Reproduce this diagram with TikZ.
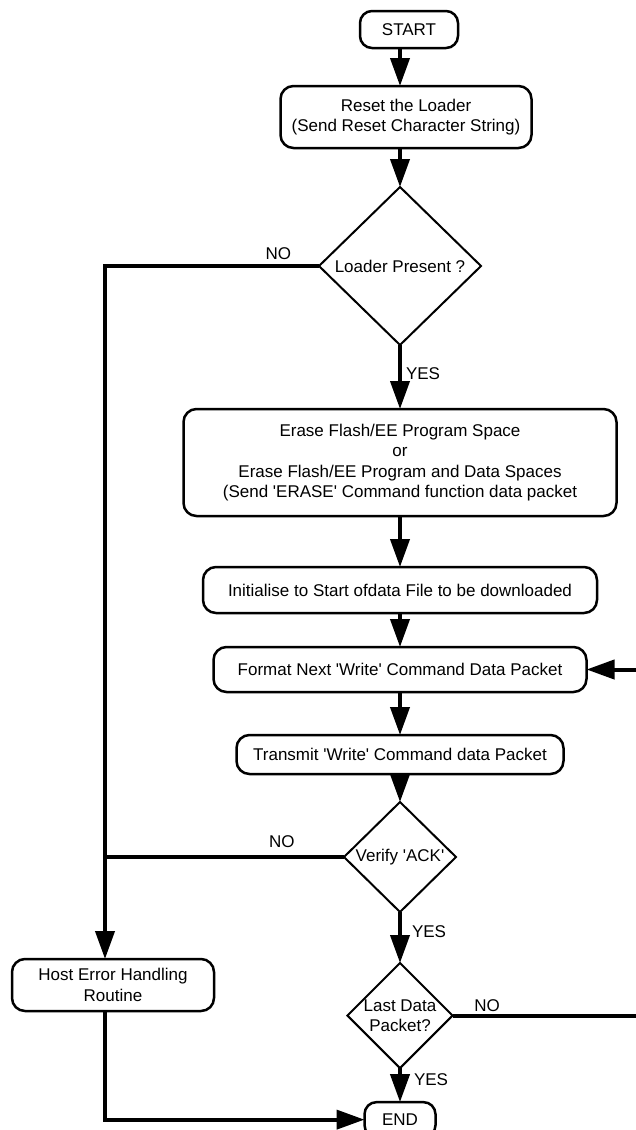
\documentclass[tikz,border=0pt]{standalone}
\usepackage{fontspec}
\setmainfont{Liberation Sans}
\usetikzlibrary{positioning, arrows.meta, shapes.geometric}
\newcommand{\apos}{\textquotesingle}

\begin{document}
\begin{tikzpicture}[
  x=1pt, y=-1pt,
  font=\fontsize{17}{20.5}\selectfont,
  proc/.style={draw, line width=2.5pt, rounded corners=13pt, align=center, inner sep=2pt, outer sep=0pt},
  term/.style={proc, rounded corners=12pt},
  decision/.style={draw, diamond, line width=2pt, aspect=1, align=center, inner sep=0pt, outer sep=0pt},
  flow/.style={line width=4pt, -{Triangle[width=19pt, length=28pt]}},
  lbl/.style={inner sep=1pt}
]
  \useasboundingbox (0,0) rectangle (636,1130);

  % Nodes
  \node[term, minimum width=98pt, minimum height=37pt] (start) at (409,29.5) {START};
  \node[proc, minimum width=251pt, minimum height=62pt] (reset) [below=38pt of start, xshift=-3pt] {Reset the Loader\\(Send Reset Character String)};
  \node[decision, minimum width=162pt, minimum height=158pt] (loader) [below=39pt of reset, xshift=-6pt] {Loader Present ?};
  \node[proc, minimum width=433pt, minimum height=107pt] (erase) [below=64pt of loader] {Erase Flash/EE Program Space\\or\\Erase Flash/EE Program and Data Spaces\\(Send \apos ERASE\apos{} Command function data packet};
  \node[proc, minimum width=394pt, minimum height=46pt] (init) [below=51pt of erase] {Initialise to Start ofdata File to be downloaded};
  \node[proc, minimum width=373pt, minimum height=45pt] (format) [below=34pt of init] {Format Next \apos Write\apos{} Command Data Packet};
  \node[proc, minimum width=327pt, minimum height=39pt] (transmit) [below=43pt of format] {Transmit \apos Write\apos{} Command data Packet};
  \node[decision, minimum width=112pt, minimum height=110pt] (verify) [below=28pt of transmit] {Verify \apos ACK\apos};
  \node[decision, minimum width=104pt, minimum height=103pt] (last) [below=51pt of verify] {Last Data\\Packet?};
  \node[term, minimum width=71pt, minimum height=35pt] (end) [below=34pt of last] {END};
  \node[proc, minimum width=202pt, minimum height=52pt] (host) at (113,985) {Host Error Handling\\Routine};

  \coordinate (nobr) at ([xshift=-214pt]loader.west);
  \coordinate (loopr) at ([xshift=192pt]last.east);

  % Connectors
  \draw[flow] (start.south -| loader) -- (reset.north -| loader);
  \draw[flow] (reset.south -| loader) -- (loader.north);
  \draw[flow] (loader.south) -- node[lbl, right=3pt, pos=.44] {YES} (erase.north);
  \draw[flow] (erase) -- (init);
  \draw[flow] (init) -- (format);
  \draw[flow] (format) -- (transmit);
  \draw[flow] (transmit) -- (verify);
  \draw[flow] (verify) -- node[lbl, right=9pt, pos=.39] {YES} (last);
  \draw[flow] (last) -- node[lbl, right=11pt, pos=.35] {YES} (end);
  \draw[flow] (loader.west) -- node[lbl, above=3pt, pos=.19] {NO} (nobr) -- (nobr |- host.north);
  \draw[line width=4pt] (verify.west) -- node[lbl, above=6pt, pos=.26] {NO} (verify.west -| nobr);
  \draw[flow] (host.south -| nobr) |- (end.west);
  \draw[flow] (last.east) -- node[lbl, above=1pt, pos=.18] {NO} (loopr) |- (format.east);

\end{tikzpicture}
\end{document}
